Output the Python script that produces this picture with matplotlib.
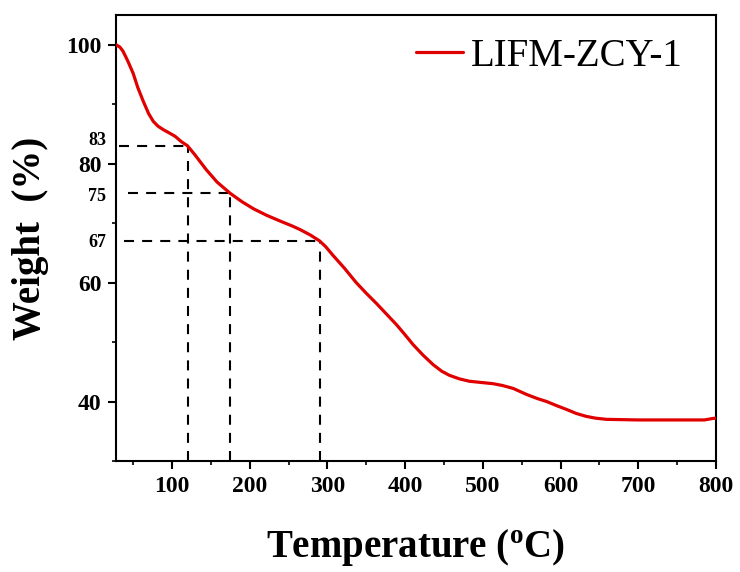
import matplotlib
matplotlib.use("Agg")
import matplotlib.pyplot as plt
from matplotlib.ticker import MultipleLocator
from matplotlib.transforms import blended_transform_factory

plt.rcParams['font.family'] = ['Liberation Serif', 'DejaVu Serif']
plt.rcParams['mathtext.fontset'] = 'custom'
plt.rcParams['mathtext.rm'] = 'Liberation Serif:bold'

# TGA curve of LIFM-ZCY-1
temperature = [28, 33, 37, 43, 50, 56, 63, 70, 76, 82, 89, 96, 104, 112, 120,
               130, 144, 158, 175, 190, 205, 222, 240, 255, 265, 278, 290,
               298, 307, 322, 337, 350, 363, 376, 389, 400, 410, 423, 436,
               447, 457, 470, 483, 498, 513, 525, 539, 556, 570, 582, 595,
               607, 620, 633, 645, 659, 700, 750, 785, 796, 800]
weight = [100.0, 99.6, 98.9, 97.3, 95.2, 92.8, 90.5, 88.4, 87.1, 86.3, 85.7,
          85.2, 84.6, 83.7, 83.0, 81.4, 79.0, 76.9, 75.0, 73.6, 72.4, 71.3,
          70.3, 69.5, 68.9, 68.0, 67.0, 66.0, 64.6, 62.4, 60.0, 58.2, 56.5,
          54.7, 52.9, 51.2, 49.6, 47.8, 46.2, 45.1, 44.4, 43.8, 43.4, 43.2,
          43.0, 42.7, 42.2, 41.2, 40.5, 40.0, 39.3, 38.7, 38.0, 37.5, 37.2,
          37.0, 36.9, 36.9, 36.9, 37.15, 37.2]

# Marked weight-loss stages
mark_temps = [120, 175, 290]
mark_weights = [83, 75, 67]
mark_labels = ['83', '75', '67']
mark_starts = [32, 43, 38]

x_ticks = [100, 200, 300, 400, 500, 600, 700, 800]
y_ticks = [40, 60, 80, 100]

fig = plt.figure(figsize=(7.4, 5.72), dpi=100)
ax = fig.add_axes([0.1568, 0.1941, 0.8108, 0.7797])

ax.plot(temperature, weight, color='#e00000', lw=2.3, label='LIFM-ZCY-1',
        solid_capstyle='round', solid_joinstyle='round', zorder=3)

dash = (0, (4.8, 3.9))
for t, w, x0 in zip(mark_temps, mark_weights, mark_starts):
    ax.plot([x0, t], [w, w], color='black', lw=1.5, linestyle=dash, zorder=2)
    ax.plot([t, t], [30, w], color='black', lw=1.5, linestyle=dash, zorder=2)

trans = blended_transform_factory(ax.transAxes, ax.transData)
for w, lab, dy in zip(mark_weights, mark_labels, [0.9, -0.6, -0.3]):
    ax.text(-0.016, w + dy, lab, transform=trans, ha='right', va='center',
            fontsize=13, fontweight='bold')

ax.set_xlim(28, 800)
ax.set_ylim(30, 105)
ax.set_xticks(x_ticks)
ax.set_yticks(y_ticks)
ax.xaxis.set_minor_locator(MultipleLocator(50))
ax.yaxis.set_minor_locator(MultipleLocator(10))

for s in ax.spines.values():
    s.set_linewidth(1.5)
ax.tick_params(which='major', direction='out', length=5.5, width=1.5,
               labelsize=17, pad=5)
ax.tick_params(which='minor', direction='out', length=2.8, width=1.2)
for lbl in ax.get_xticklabels() + ax.get_yticklabels():
    lbl.set_fontweight('bold')

ax.set_xlabel(r'Temperature ($\mathregular{^o}$C)', fontsize=28,
              fontweight='bold', labelpad=22)
ax.set_ylabel('Weight  (%)', fontsize=28, fontweight='bold', labelpad=12)

ax.legend(loc='center left', bbox_to_anchor=(0.5, 0.908), frameon=False,
          fontsize=28, handlelength=1.2, handletextpad=0.2, borderpad=0,
          borderaxespad=0)

fig.savefig('out.png', dpi=100)
